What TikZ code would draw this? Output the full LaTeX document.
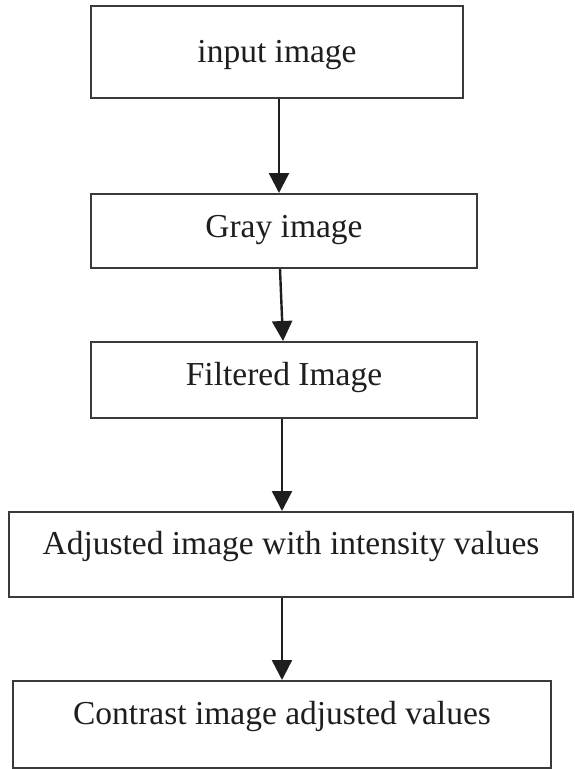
\documentclass[tikz,border=0pt]{standalone}
\usepackage{fontspec}
\setmainfont{Liberation Serif}
\usetikzlibrary{arrows.meta}
\definecolor{edge}{HTML}{3A3A3A}
\definecolor{ink}{HTML}{1E1E1E}
\tikzset{
  stage/.style={draw=edge, line width=2pt, rectangle, inner sep=0pt,
    text=ink, font=\fontsize{33.5}{40}\selectfont},
  flow/.style={draw=ink, line width=2.4pt,
    -{Triangle[width=20pt,length=20pt]}}
}
\begin{document}
\begin{tikzpicture}[x=1pt,y=-1pt]
  \useasboundingbox (0,0) rectangle (575,769);
  % processing stages, top to bottom
  \node[stage, minimum width=372pt, minimum height=92pt,
        text height=24pt, text depth=4pt] (n1) at (277,52) {input image};
  \node[stage, minimum width=386pt, minimum height=74pt,
        text height=20pt, text depth=8pt] (n2) at (284,231) {Gray image};
  \node[stage, minimum width=386pt, minimum height=76pt,
        text height=20pt, text depth=10pt] (n3) at (284,380) {Filtered Image};
  \node[stage, minimum width=564pt, minimum height=85pt,
        text height=12pt, text depth=12pt] (n4) at (291,554.5) {Adjusted image with intensity values};
  \node[stage, minimum width=538pt, minimum height=87pt,
        text height=12pt, text depth=12pt] (n5) at (282,724.5) {Contrast image adjusted values};
  % connectors
  \draw[flow] ([xshift=2pt]n1.south) -- ([xshift=-5pt]n2.north);
  \draw[flow] ([xshift=-4pt]n2.south) -- ([xshift=-1pt]n3.north);
  \draw[flow] ([xshift=-2pt]n3.south) -- ([xshift=-9pt]n4.north);
  \draw[flow] ([xshift=-9pt]n4.south) -- (n5.north);
\end{tikzpicture}
\end{document}
